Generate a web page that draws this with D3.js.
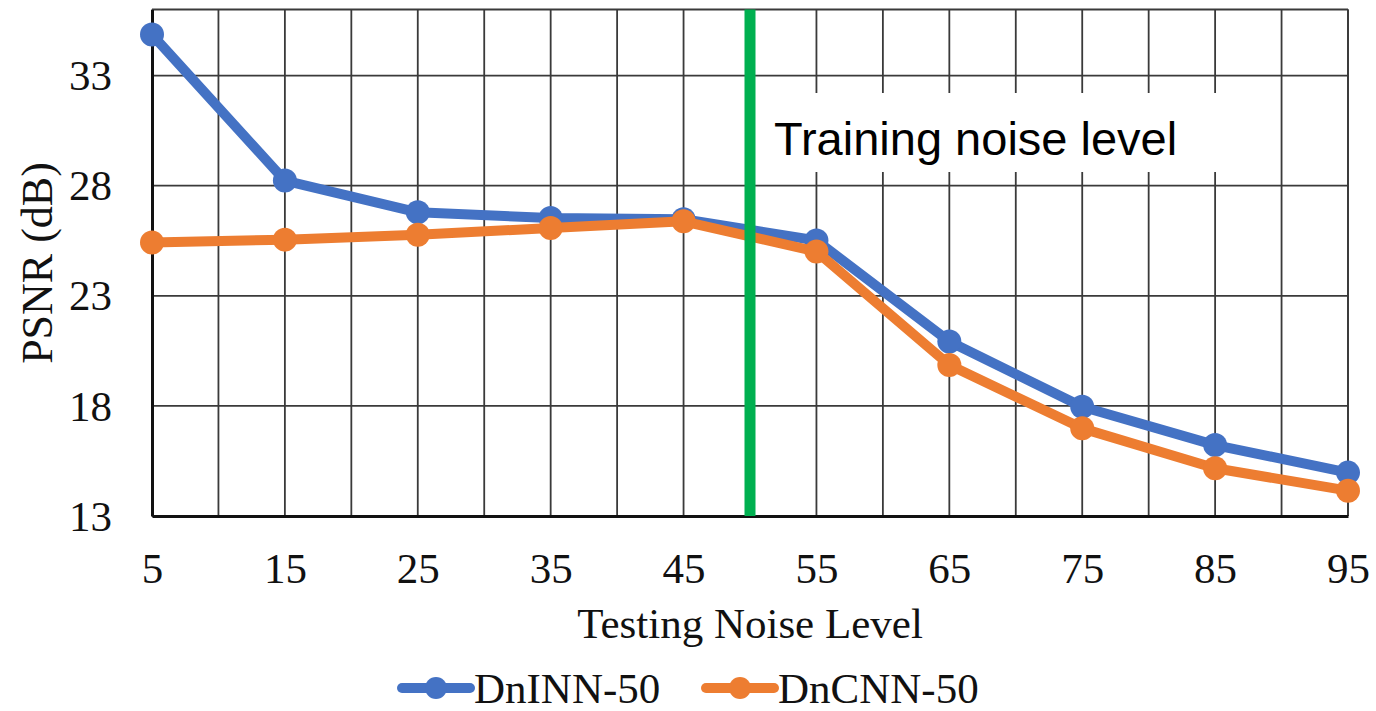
<!DOCTYPE html>
<html>
<head>
<meta charset="utf-8">
<script src="https://cdn.jsdelivr.net/npm/d3@7"></script>
<style>
  html, body { margin: 0; padding: 0; background: #fff; }
  svg { display: block; }
</style>
</head>
<body>
<svg id="chart" width="1376" height="711"></svg>
<script>
// ---- data ----
const noiseLevels = [5, 15, 25, 35, 45, 55, 65, 75, 85, 95];
const dninn = [34.86, 28.23, 26.79, 26.53, 26.48, 25.51, 20.92, 17.96, 16.22, 14.97];
const dncnn = [25.42, 25.55, 25.77, 26.08, 26.38, 25.01, 19.86, 16.98, 15.17, 14.15];
const seriesNames = ["DnINN-50", "DnCNN-50"];
const yTicks = [13, 18, 23, 28, 33];
const xTicks = [5, 15, 25, 35, 45, 55, 65, 75, 85, 95];
const xGrid = [5, 10, 15, 20, 25, 30, 35, 40, 45, 50, 55, 60, 65, 70, 75, 80, 85, 90, 95];
const trainingLevel = [50];
const annotation = ["Training noise level"];
const xTitle = "Testing Noise Level";
const yTitle = "PSNR (dB)";

// ---- layout ----
const svg = d3.select("#chart");
const L = 152, R = 1348, T = 9.5, B = 516;
const x = d3.scaleLinear().domain([5, 95]).range([L, R]);
const y = d3.scaleLinear().domain([13, 36]).range([B, T]);
const colors = ["#4472C4", "#ED7D31"];
const serif = "'Liberation Serif','Times New Roman',serif";
const sans = "'Liberation Sans',Arial,sans-serif";

// grid
const grid = svg.append("g").attr("stroke", "#3a3a3a").attr("stroke-width", 1.8);
grid.selectAll("line.v").data(xGrid).join("line")
  .attr("x1", d => x(d)).attr("x2", d => x(d)).attr("y1", T).attr("y2", B);
grid.selectAll("line.h").data(yTicks.concat([36])).join("line")
  .attr("x1", L).attr("x2", R).attr("y1", d => y(d)).attr("y2", d => y(d));

// frame (right & top)
svg.append("line").attr("x1", R).attr("x2", R).attr("y1", T).attr("y2", B)
  .attr("stroke", "#3a3a3a").attr("stroke-width", 1.8);

// axes
const yAxis = d3.axisLeft(y).tickValues(yTicks).tickSize(0).tickPadding(40).tickFormat(d3.format("d"));
const gy = svg.append("g").attr("transform", `translate(${L},0)`).call(yAxis);
gy.select(".domain").attr("stroke", "#111").attr("stroke-width", 3);
gy.selectAll("text").attr("font-family", serif).attr("font-size", 43).attr("fill", "#111").attr("dy", "0.33em");

const xAxis = d3.axisBottom(x).tickValues(xTicks).tickSize(0).tickPadding(36).tickFormat(d3.format("d"));
const gx = svg.append("g").attr("transform", `translate(0,${B})`).call(xAxis);
gx.select(".domain").attr("stroke", "#111").attr("stroke-width", 3);
gx.selectAll("text").attr("font-family", serif).attr("font-size", 43).attr("fill", "#111");

// annotation box
svg.append("rect").attr("x", x(trainingLevel[0]) + 5).attr("y", 93)
  .attr("width", 500).attr("height", 79).attr("fill", "#fff");
svg.append("text").attr("x", 774).attr("y", 155)
  .attr("font-family", sans).attr("font-size", 47).attr("fill", "#000")
  .text(annotation[0]);

// series
const line = d3.line().x((d, i) => x(noiseLevels[i])).y(d => y(d));
[dninn, dncnn].forEach((vals, k) => {
  const g = svg.append("g");
  g.append("path").datum(vals).attr("d", line)
    .attr("fill", "none").attr("stroke", colors[k]).attr("stroke-width", 10)
    .attr("stroke-linejoin", "round");
  g.selectAll("circle").data(vals).join("circle")
    .attr("cx", (d, i) => x(noiseLevels[i])).attr("cy", d => y(d))
    .attr("r", 12).attr("fill", colors[k]);
});

// training line
svg.selectAll("line.train").data(trainingLevel).join("line")
  .attr("x1", d => x(d)).attr("x2", d => x(d)).attr("y1", T).attr("y2", B)
  .attr("stroke", "#00B050").attr("stroke-width", 11);

// titles
svg.append("text").attr("x", 750).attr("y", 638).attr("text-anchor", "middle")
  .attr("font-family", serif).attr("font-size", 43).attr("fill", "#111").text(xTitle);
svg.append("text").attr("transform", "translate(52,263) rotate(-90)").attr("text-anchor", "middle")
  .attr("font-family", serif).attr("font-size", 44).attr("fill", "#111").text(yTitle);

// legend
const legX = [402, 706];
seriesNames.forEach((name, k) => {
  const g = svg.append("g").attr("transform", `translate(${legX[k]},688)`);
  g.append("line").attr("x1", 0).attr("x2", 68).attr("y1", 0).attr("y2", 0)
    .attr("stroke", colors[k]).attr("stroke-width", 10).attr("stroke-linecap", "round");
  g.append("circle").attr("cx", 34).attr("cy", 0).attr("r", 11).attr("fill", colors[k]);
  g.append("text").attr("x", 72).attr("y", 15)
    .attr("font-family", serif).attr("font-size", 43).attr("fill", "#111").text(name);
});
</script>
</body>
</html>
